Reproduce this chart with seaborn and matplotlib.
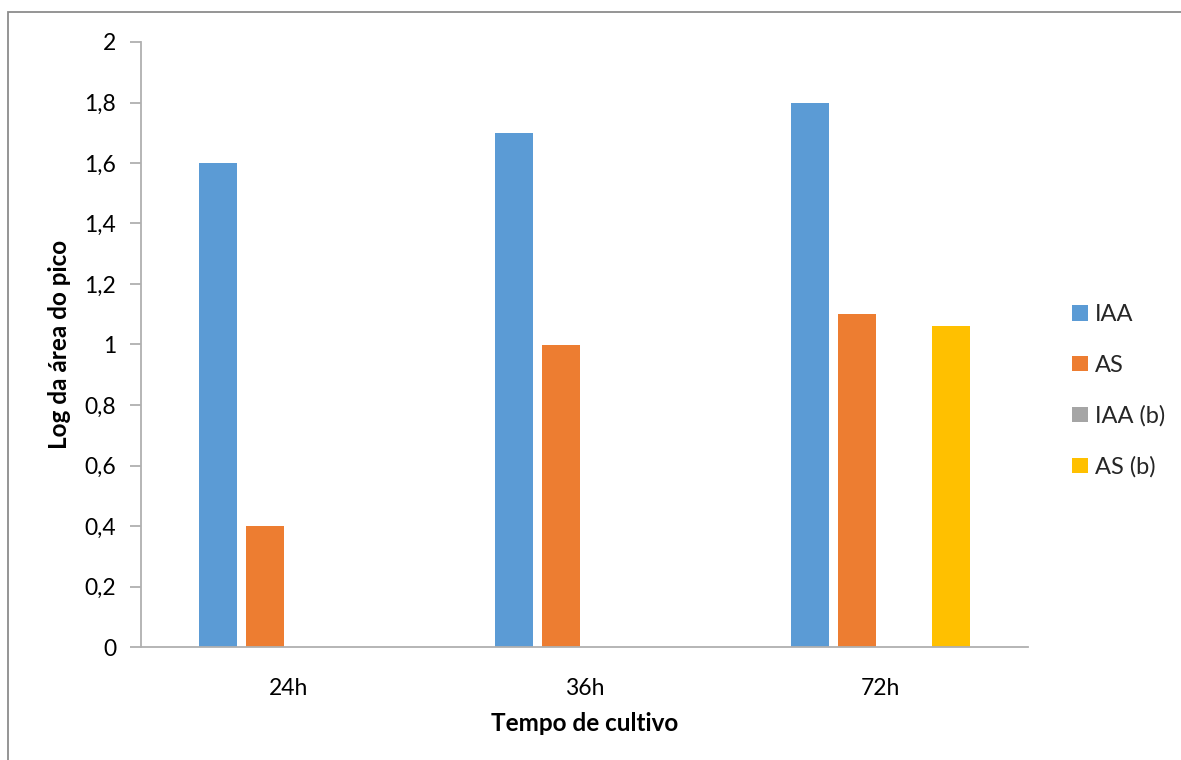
import numpy as np
import pandas as pd
import matplotlib
matplotlib.use("Agg")
import matplotlib.pyplot as plt
from matplotlib.patches import Patch, Rectangle
from matplotlib.ticker import FuncFormatter, MultipleLocator
import seaborn as sns

# Data
categories = ["24h", "36h", "72h"]
series = ["IAA", "AS", "IAA (b)", "AS (b)"]
iaa = [1.6, 1.7, 1.8]
as_ = [0.4, 1.0, 1.1]
iaa_b = [np.nan, np.nan, np.nan]
as_b = [np.nan, np.nan, 1.06]
colors = ["#5B9BD5", "#ED7D31", "#A5A5A5", "#FFC000"]

rows = []
for name, vals in zip(series, [iaa, as_, iaa_b, as_b]):
    for cat, v in zip(categories, vals):
        rows.append({"Tempo": cat, "Serie": name, "Valor": v})
df = pd.DataFrame(rows)

sns.set_theme(style="white")
plt.rcParams["font.family"] = ["Lato", "DejaVu Sans"]

fig = plt.figure(figsize=(11.81, 7.60), dpi=100)
ax = fig.add_axes([141 / 1181, 1 - 647 / 760, (1028 - 141) / 1181, (647 - 42) / 760])

palette = dict(zip(series, colors))
sns.barplot(data=df, x="Tempo", y="Valor", hue="Serie", order=categories,
            hue_order=series, palette=palette, width=0.636, gap=0.19,
            saturation=1, legend=False, ax=ax, edgecolor="none")

ax.set_ylim(0, 2)
ax.set_xlim(-0.5, 2.5)
ax.yaxis.set_major_locator(MultipleLocator(0.2))
ax.yaxis.set_major_formatter(FuncFormatter(lambda v, p: f"{v:.1f}".rstrip("0").rstrip(".").replace(".", ",")))

axis_gray = "#B0B0B0"
for side in ["top", "right"]:
    ax.spines[side].set_visible(False)
for side in ["left", "bottom"]:
    ax.spines[side].set_color(axis_gray)
    ax.spines[side].set_linewidth(1.3)

ax.tick_params(axis="y", which="major", left=True, length=8, width=1.3,
               color=axis_gray, direction="out", pad=10, labelsize=16.5,
               labelcolor="black")
ax.tick_params(axis="x", bottom=False, pad=16, labelsize=16.5, labelcolor="black")

ax.set_ylabel("Log da área do pico", fontsize=17.5, fontweight="bold",
              color="black")
ax.yaxis.set_label_coords(-0.079, 0.5)
ax.set_xlabel("Tempo de cultivo", fontsize=17.5, fontweight="bold",
              color="black", labelpad=10)

handles = [Patch(facecolor=c, edgecolor="none", label=s) for s, c in zip(series, colors)]
fig.legend(handles=handles, loc="center left", bbox_to_anchor=(1063 / 1181, 1 - 391 / 760),
           frameon=False, fontsize=17, handlelength=0.65, handleheight=0.65,
           handletextpad=0.3, labelspacing=1.25, borderaxespad=0)

# Chart area border
fig.patches.append(Rectangle((8 / 1181, -0.05), 1.2, 1 - 12 / 760 + 0.05,
                             transform=fig.transFigure, fill=False,
                             edgecolor="#8C8C8C", linewidth=1.3, clip_on=False))

fig.savefig("out.png", dpi=100, facecolor="white")
